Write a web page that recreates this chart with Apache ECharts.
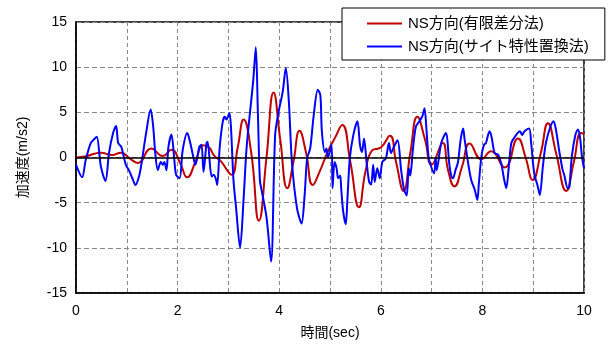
<!DOCTYPE html>
<html>
<head>
<meta charset="utf-8">
<script src="https://cdn.jsdelivr.net/npm/echarts@6/dist/echarts.min.js"></script>
<style>
  html, body { margin: 0; padding: 0; background: #fff; }
  #main { width: 615px; height: 347px; }
</style>
</head>
<body>
<div id="main"></div>
<script>
var myChart = echarts.init(document.getElementById('main'));
var option;

// 有限差分法
var redT = [0, 0.2, 0.49, 0.71, 0.88, 1.08, 1.22, 1.48, 1.71, 1.88, 2.05, 2.19, 2.35, 2.5, 2.62, 2.72, 2.85, 3.06, 3.18, 3.3, 3.45, 3.6, 3.75, 3.89, 4.02, 4.16, 4.28, 4.4, 4.53, 4.66, 4.8, 4.96, 5.1, 5.24, 5.4, 5.57, 5.7, 5.83, 6.0, 6.18, 6.3, 6.45, 6.58, 6.72, 6.87, 7.0, 7.22, 7.32, 7.45, 7.6, 7.75, 7.98, 8.17, 8.44, 8.7, 8.85, 8.99, 9.15, 9.29, 9.45, 9.65, 9.8, 9.94, 10];
var redV = [0, 0.15, 0.53, 0.28, 0.53, -0.2, -0.6, 1.0, 0.17, 0.85, -0.6, -2.2, -0.5, 1.35, 1.1, 0.2, -0.4, -1.9, 1.0, 4.2, 0.5, -7.0, 0, 7.2, 2.0, -3.4, -0.5, 2.95, 0.5, -3.05, -1.5, 0.7, 2.2, 3.6, -0.5, -5.5, -1.5, 0.8, 1.1, 2.4, -0.5, -3.7, 0.5, 4.5, 2.0, -0.8, 1.6, -1.3, -3.2, -1.0, 1.55, -0.2, 0.7, -1.1, 2.1, 0, -2.5, 0.5, 3.8, 0.5, -3.7, -0.5, 2.7, 2.6];

// サイト特性置換法
var blueT = [0, 0.12, 0.19, 0.29, 0.37, 0.41, 0.49, 0.58, 0.65, 0.73, 0.79, 0.83, 0.89, 0.98, 1.04, 1.11, 1.17, 1.24, 1.29, 1.38, 1.47, 1.52, 1.56, 1.61, 1.67, 1.71, 1.74, 1.78, 1.82, 1.88, 1.93, 1.97, 2.04, 2.1, 2.19, 2.25, 2.3, 2.35, 2.43, 2.47, 2.51, 2.57, 2.59, 2.67, 2.71, 2.76, 2.78, 2.83, 2.89, 2.93, 2.96, 3.02, 3.05, 3.1, 3.15, 3.23, 3.3, 3.36, 3.49, 3.54, 3.58, 3.62, 3.66, 3.75, 3.84, 3.92, 3.99, 4.07, 4.13, 4.19, 4.25, 4.35, 4.44, 4.5, 4.55, 4.61, 4.68, 4.76, 4.81, 4.84, 4.9, 4.93, 4.96, 5.03, 5.05, 5.09, 5.13, 5.16, 5.2, 5.22, 5.26, 5.31, 5.34, 5.39, 5.46, 5.54, 5.59, 5.63, 5.67, 5.72, 5.77, 5.81, 5.85, 5.88, 5.93, 5.98, 6.03, 6.1, 6.16, 6.2, 6.26, 6.33, 6.4, 6.46, 6.51, 6.55, 6.58, 6.63, 6.69, 6.76, 6.82, 6.86, 6.9, 6.94, 6.99, 7.05, 7.08, 7.1, 7.19, 7.28, 7.35, 7.39, 7.42, 7.47, 7.52, 7.57, 7.62, 7.65, 7.72, 7.78, 7.85, 7.9, 7.93, 7.98, 8.03, 8.07, 8.14, 8.18, 8.24, 8.31, 8.37, 8.43, 8.47, 8.52, 8.57, 8.64, 8.74, 8.78, 8.83, 8.92, 8.96, 9.02, 9.09, 9.13, 9.19, 9.25, 9.35, 9.4, 9.45, 9.51, 9.58, 9.61, 9.68, 9.71, 9.76, 9.83, 9.88, 9.92, 9.96, 10];
var blueV = [-0.8, -2.2, -0.3, 1.6, 2.1, 2.3, -1.0, -2.6, 0.5, 2.7, 3.5, 1.6, 1.2, -0.8, -1.4, -2.3, -3.05, -2.1, -0.65, 2.7, 5.3, 3.4, 0.5, -1.4, -0.5, -0.8, -0.5, -1.4, 1.2, 2.55, 0.1, -1.9, -2.3, 0.8, 2.7, 1.6, 0.3, -0.8, 1.2, 1.4, -1.6, 1.6, 1.75, -2.1, -1.9, -2.5, -3.05, 1.2, 4.0, 4.5, 4.2, 4.9, 3.4, -2.5, -5.5, -10.0, -4.5, 1.2, 8.6, 12.2, 5.0, -2.5, -3.8, -6.6, -11.5, 2.5, 5.1, 7.3, 9.9, 6.2, -0.5, -5.6, -7.3, -4.2, -0.1, 1.0, 4.7, 7.5, 6.9, 2.9, 0.6, 1.0, 0, 1.4, -3.4, -0.5, -1.2, -2.3, -2.0, -3.4, -6.0, -7.4, -4.9, -0.1, 2.5, 4.0, 1.4, 0.6, 2.1, -0.5, -2.7, -3.0, -0.8, -2.7, -1.2, -2.3, -0.5, -0.1, 1.6, 0.5, 1.2, 1.9, -1.4, -3.6, -4.2, -1.2, -2.0, 0.8, 3.4, 4.0, 4.6, 5.45, 3.0, 0.1, -1.0, -1.75, 0, -1.4, 1.6, 2.7, -0.8, -2.1, -2.3, -1.4, -0.5, 1.9, 3.2, 2.0, -0.65, -2.5, -3.6, -4.7, -2.9, 0.1, 1.4, 1.6, 2.9, 2.3, 0.5, 0.3, -0.65, -2.5, -3.4, -1.0, 1.6, 2.3, 2.9, 2.5, 2.9, 3.2, 1.6, -1.75, -3.2, -4.15, -1.0, 1.6, 3.6, 4.0, 3.0, 0.8, -1.4, -1.9, -3.4, -3.3, 0.1, 2.5, 3.1, 2.3, 0.1, -1.2];

var seriesNames = ['NS方向(有限差分法)', 'NS方向(サイト特性置換法)'];
var xTicks = [0, 2, 4, 6, 8, 10];

function pairs(t, v) {
  var out = [];
  for (var i = 0; i < t.length; i++) out.push([t[i], v[i]]);
  return out;
}

var fontLatin = 'Liberation Sans, Arial, "Noto Sans CJK JP", sans-serif';

option = {
  backgroundColor: '#fff',
  animation: false,
  grid: {
    left: 76, right: 31, top: 22, bottom: 54,
    show: true,
    borderColor: '#000',
    borderWidth: 1.5
  },
  legend: {
    orient: 'vertical',
    left: 342,
    top: 8,
    padding: [8, 16, 6, 25],
    itemGap: 8,
    icon: 'rect',
    itemWidth: 35,
    itemHeight: 2,
    backgroundColor: '#fff',
    borderColor: '#000',
    borderWidth: 1,
    textStyle: { fontFamily: fontLatin, fontSize: 15, color: '#000', padding: [0, 0, 0, 1] },
    data: seriesNames
  },
  xAxis: {
    type: 'value',
    min: 0, max: 10, interval: 1,
    name: '時間(sec)',
    nameLocation: 'middle',
    nameGap: 33,
    nameTextStyle: { fontFamily: fontLatin, fontSize: 14, color: '#000' },
    axisLine: { show: true, onZero: false, lineStyle: { color: '#000', width: 1.5 } },
    axisTick: { show: false },
    axisLabel: {
      margin: 11,
      fontFamily: fontLatin, fontSize: 14, color: '#000',
      formatter: function (v) { return xTicks.indexOf(v) >= 0 ? String(v) : ''; }
    },
    splitLine: { show: true, lineStyle: { color: '#888', type: [4, 3], width: 1 } }
  },
  yAxis: {
    type: 'value',
    min: -15, max: 15, interval: 5,
    name: '加速度(m/s2)',
    nameLocation: 'middle',
    nameGap: 46,
    nameTextStyle: { fontFamily: fontLatin, fontSize: 14, color: '#000' },
    axisLine: { show: true, lineStyle: { color: '#000', width: 1.5 } },
    axisTick: { show: false },
    axisLabel: { margin: 9, fontFamily: fontLatin, fontSize: 14, color: '#000' },
    splitLine: { show: true, lineStyle: { color: '#888', type: [5, 3], width: 1 } }
  },
  series: [
    {
      name: seriesNames[0],
      type: 'line',
      symbol: 'none',
      smooth: 0.5,
      z: 3,
      lineStyle: { color: '#C00000', width: 2 },
      itemStyle: { color: '#C00000' },
      data: pairs(redT, redV),
      markLine: {
        silent: true,
        symbol: 'none',
        label: { show: false },
        lineStyle: { color: '#000', type: 'solid', width: 1.5 },
        data: [{ yAxis: 0 }]
      }
    },
    {
      name: seriesNames[1],
      type: 'line',
      symbol: 'none',
      smooth: 0.3,
      z: 4,
      lineStyle: { color: '#0000FF', width: 2 },
      itemStyle: { color: '#0000FF' },
      data: pairs(blueT, blueV)
    }
  ]
};

option && myChart.setOption(option);
</script>
</body>
</html>
